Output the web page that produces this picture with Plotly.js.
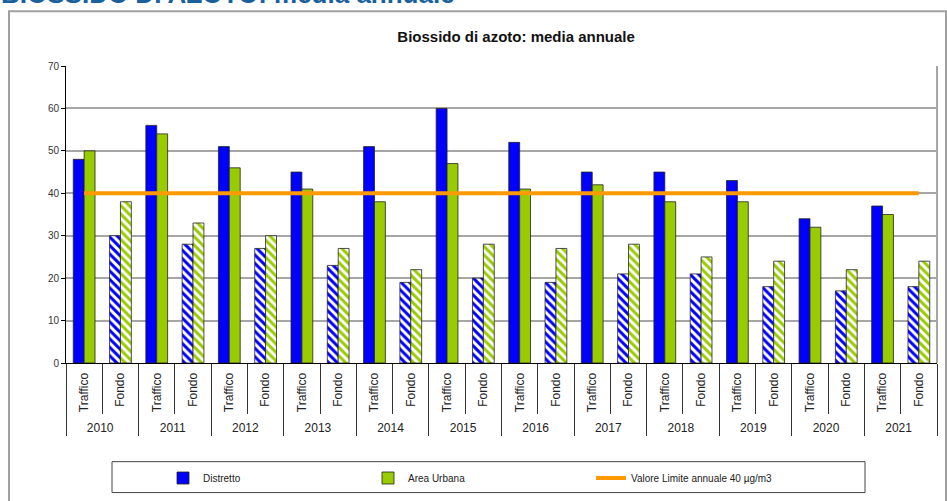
<!DOCTYPE html>
<html>
<head>
<meta charset="utf-8">
<script src="https://cdn.plot.ly/plotly-3.0.1.min.js"></script>
<style>
  body { margin: 0; background: #fff; }
  #chart { width: 947px; height: 501px; }
</style>
</head>
<body>
<div id="chart"></div>
<script>
const anni = ['2010', '2011', '2012', '2013', '2014', '2015', '2016', '2017', '2018', '2019', '2020', '2021'];
const tipi = ['Traffico', 'Fondo'];

const distrettoTraffico = [48, 56, 51, 45, 51, 60, 52, 45, 45, 43, 34, 37];
const distrettoFondo = [30, 28, 27, 23, 19, 20, 19, 21, 21, 18, 17, 18];
const areaUrbanaTraffico = [50, 54, 46, 41, 38, 47, 41, 42, 38, 38, 32, 35];
const areaUrbanaFondo = [38, 33, 30, 27, 22, 28, 27, 28, 25, 24, 22, 24];
const valoreLimite = 40;

const yTicks = [0, 10, 20, 30, 40, 50, 60, 70];

// build the two-level category axis: year / Traffico-Fondo
const xAnni = [];
const xTipi = [];
anni.forEach(a => tipi.forEach(t => { xAnni.push(a); xTipi.push(t); }));

function interleave(traffico, fondo) {
  const out = [];
  traffico.forEach((v, i) => { out.push(v); out.push(fondo[i]); });
  return out;
}

// Fondo bars are hatched, Traffico bars solid
const hatch = xTipi.map(t => t === 'Fondo' ? '\\' : '');

const font = 'Liberation Sans, Arial, sans-serif';

function barTrace(name, color, values, legendId) {
  return {
    type: 'bar',
    name: name,
    legend: legendId,
    x: [xAnni, xTipi],
    y: values,
    marker: {
      color: color,
      line: { color: '#222', width: 0.8 },
      pattern: { shape: hatch, bgcolor: '#fff', size: 6, solidity: 0.5, fillmode: 'replace' }
    },
    hoverinfo: 'x+y'
  };
}

const traces = [
  barTrace('Distretto', '#0000ff', interleave(distrettoTraffico, distrettoFondo), 'legend'),
  barTrace('Area Urbana', '#99cc00', interleave(areaUrbanaTraffico, areaUrbanaFondo), 'legend2'),
  {
    type: 'scatter',
    mode: 'lines',
    name: 'Valore Limite annuale 40 µg/m3',
    legend: 'legend3',
    x: [xAnni, xTipi],
    y: xAnni.map(() => valoreLimite),
    line: { color: '#ff9900', width: 4 }
  }
];

// pixel helpers for decorations outside the plot area
const L = 66, R = 10, T = 66, B = 137;
const pw = 947 - L - R, ph = 501 - T - B;
const px = v => (v - L) / pw;
const py = v => 1 - (v - T) / ph;

// one legend per entry, so the entries sit where the reference puts them
function legendAt(left) {
  return {
    orientation: 'h',
    x: px(left),
    xanchor: 'left',
    y: py(478),
    yanchor: 'middle',
    bgcolor: 'rgba(0,0,0,0)',
    borderwidth: 0,
    font: { family: font, size: 10, color: '#222' }
  };
}

const layout = {
  width: 947,
  height: 501,
  margin: { l: L, r: R, t: T, b: B },
  paper_bgcolor: '#fff',
  plot_bgcolor: '#fff',
  font: { family: font, size: 10, color: '#222' },
  title: {
    text: '<b>Biossido di azoto: media annuale</b>',
    font: { family: font, size: 15, color: '#111' },
    x: 0.545,
    xanchor: 'center',
    y: 1 - 37 / 501,
    yanchor: 'middle'
  },
  barmode: 'group',
  bargap: 0.4,
  bargroupgap: 0,
  showlegend: true,
  legend: legendAt(163),
  legend2: legendAt(368),
  legend3: legendAt(591),
  xaxis: {
    type: 'multicategory',
    tickangle: -90,
    tickson: 'boundaries',
    ticks: 'outside',
    ticklen: 50,
    tickcolor: '#333',
    ticklabelstandoff: 4,
    showdividers: true,
    dividercolor: '#333',
    dividerwidth: 1,
    showline: true,
    linecolor: '#000',
    linewidth: 1,
    showgrid: false,
    tickfont: { family: font, size: 12, color: '#222' }
  },
  yaxis: {
    range: [0, 70],
    tickvals: yTicks,
    ticks: 'outside',
    ticklen: 4,
    tickcolor: '#000',
    showline: true,
    linecolor: '#000',
    linewidth: 1,
    showgrid: true,
    gridcolor: '#a6a6a6',
    gridwidth: 2,
    zeroline: false,
    tickfont: { family: font, size: 10, color: '#333' }
  },
  shapes: [
    // outer frame of the chart
    {
      type: 'rect', xref: 'paper', yref: 'paper', layer: 'below',
      x0: px(9), x1: px(946), y0: py(530), y1: py(11),
      line: { color: '#a0a0a0', width: 2 }
    },
    // right edge of plot area
    {
      type: 'line', xref: 'paper', yref: 'paper',
      x0: 1, x1: 1, y0: 0, y1: 1,
      line: { color: '#a6a6a6', width: 2 }
    },
    // legend frame
    {
      type: 'rect', xref: 'paper', yref: 'paper', layer: 'below',
      x0: px(112), x1: px(865), y0: py(494), y1: py(463),
      line: { color: '#444', width: 1 }
    }
  ],
  annotations: [
    {
      text: '<b>BIOSSIDO DI AZOTO: media annuale</b>',
      xref: 'paper', yref: 'paper',
      x: px(-1), xanchor: 'left',
      y: py(11), yanchor: 'bottom',
      showarrow: false,
      font: { family: font, size: 26, color: '#19609c' }
    }
  ]
};

Plotly.newPlot('chart', traces, layout, { displayModeBar: false, responsive: false });
</script>
</body>
</html>
